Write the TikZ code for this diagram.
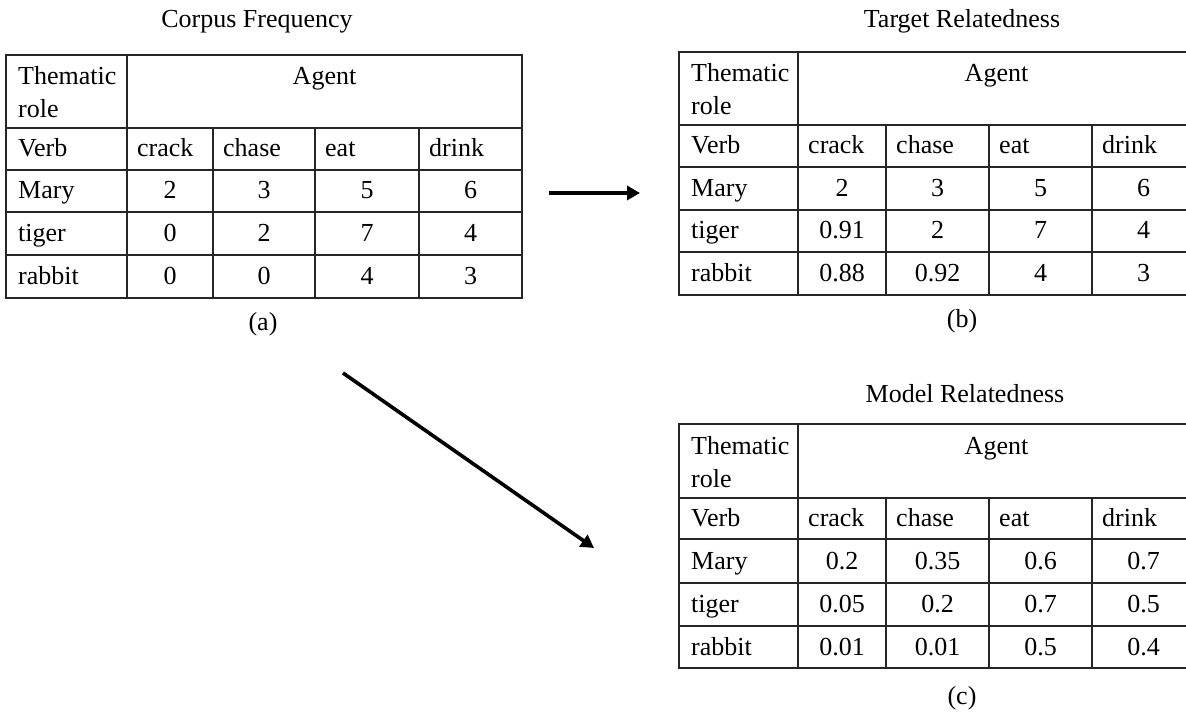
\documentclass[tikz,border=0pt]{standalone}
\usepackage{fontspec}
\setmainfont{Liberation Serif}
\usetikzlibrary{arrows.meta}
\newcommand\setcols[6]{\def\gxa{#1}\def\gxb{#2}\def\gxc{#3}\def\gxd{#4}\def\gxe{#5}\def\gxf{#6}}
\newcommand\setrows[6]{\def\gya{#1}\def\gyb{#2}\def\gyc{#3}\def\gyd{#4}\def\gye{#5}\def\gyf{#6}}
\newcommand\drawgrid{%
  \draw[gridline] (\gxa,\gya) rectangle (\gxf,\gyf);
  \foreach \yy in {\gyb,\gyc,\gyd,\gye} \draw[gridline] (\gxa,\yy) -- (\gxf,\yy);
  \draw[gridline] (\gxb,\gya) -- (\gxb,\gyf);
  \foreach \xx in {\gxc,\gxd,\gxe} \draw[gridline] (\xx,\gyb) -- (\xx,\gyf);
}
\newcommand\drawheader[1]{%
  \node[lbl] (#1-th) at ({\gxa+12},{\gya+30}) {Thematic};
  \node[lbl] (#1-role) at ({\gxa+12},{\gya+63}) {role};
  \node[ctr] (#1-agent) at ({(\gxb+\gxf)/2},{\gya+30}) {Agent};
  \node[lbl] (#1-verb) at ({\gxa+12},{(\gyb+\gyc)/2+8}) {Verb};
  \node[lbl] (#1-crack) at ({\gxb+10},{(\gyb+\gyc)/2+8}) {crack};
  \node[lbl] (#1-chase) at ({\gxc+10},{(\gyb+\gyc)/2+8}) {chase};
  \node[lbl] (#1-eat) at ({\gxd+10},{(\gyb+\gyc)/2+8}) {eat};
  \node[lbl] (#1-drink) at ({\gxe+10},{(\gyb+\gyc)/2+8}) {drink};
}
\newcommand\datarow[8]{%
  \node[lbl] (#1-l) at ({\gxa+12},{(#2+#3)/2+8}) {#4};
  \node[ctr] (#1-1) at ({(\gxb+\gxc)/2},{(#2+#3)/2+8}) {#5};
  \node[ctr] (#1-2) at ({(\gxc+\gxd)/2},{(#2+#3)/2+8}) {#6};
  \node[ctr] (#1-3) at ({(\gxd+\gxe)/2},{(#2+#3)/2+8}) {#7};
  \node[ctr] (#1-4) at ({(\gxe+\gxf)/2},{(#2+#3)/2+8}) {#8};
}
\begin{document}
\begin{tikzpicture}[x=1pt,y=-1pt,
  font=\fontsize{26}{31}\selectfont,
  gridline/.style={draw=black!85,line width=1.7pt},
  lbl/.style={anchor=base west,inner sep=0pt},
  ctr/.style={anchor=base,inner sep=0pt},
  flow/.style={line width=3.6pt,-{Triangle[length=13pt,width=14pt]}}]
\useasboundingbox (0,0) rectangle (1186,714);
\clip (0,0) rectangle (1186,714);
\fill[white] (0,0) rectangle (1186,714);

% ---- table (a)
\setcols{6}{127}{213}{315}{419}{522}
\setrows{55}{128}{170}{212}{255}{298}
\drawgrid
\drawheader{a}
\datarow{a-mary}{\gyc}{\gyd}{Mary}{2}{3}{5}{6}
\datarow{a-tiger}{\gyd}{\gye}{tiger}{0}{2}{7}{4}
\datarow{a-rabbit}{\gye}{\gyf}{rabbit}{0}{0}{4}{3}
\node[ctr] (ta) at (257,28) {Corpus Frequency};
\node[ctr] (ca) at (263,330) {(a)};

% ---- table (b)
\setcols{679}{798}{886}{989}{1092}{1195}
\setrows{52}{125}{167}{210}{252}{295}
\drawgrid
\drawheader{b}
\datarow{b-mary}{\gyc}{\gyd}{Mary}{2}{3}{5}{6}
\datarow{b-tiger}{\gyd}{\gye}{tiger}{0.91}{2}{7}{4}
\datarow{b-rabbit}{\gye}{\gyf}{rabbit}{0.88}{0.92}{4}{3}
\node[ctr] (tb) at (962,28) {Target Relatedness};
\node[ctr] (cb) at (962,327) {(b)};

% ---- table (c)
\setcols{679}{798}{886}{989}{1092}{1195}
\setrows{424}{498}{539}{583}{626}{668}
\drawgrid
\drawheader{c}
\datarow{c-mary}{\gyc}{\gyd}{Mary}{0.2}{0.35}{0.6}{0.7}
\datarow{c-tiger}{\gyd}{\gye}{tiger}{0.05}{0.2}{0.7}{0.5}
\datarow{c-rabbit}{\gye}{\gyf}{rabbit}{0.01}{0.01}{0.5}{0.4}
\node[ctr] (tc) at (965,402) {Model Relatedness};
\node[ctr] (cc) at (962,704) {(c)};

% ---- arrows
\coordinate (h1) at (549,193);
\coordinate (h2) at (640,193);
\coordinate (d1) at (343,373);
\coordinate (d2) at (594,548);
\draw[flow] (h1) -- (h2);
\draw[flow] (d1) -- (d2);
\end{tikzpicture}
\end{document}
